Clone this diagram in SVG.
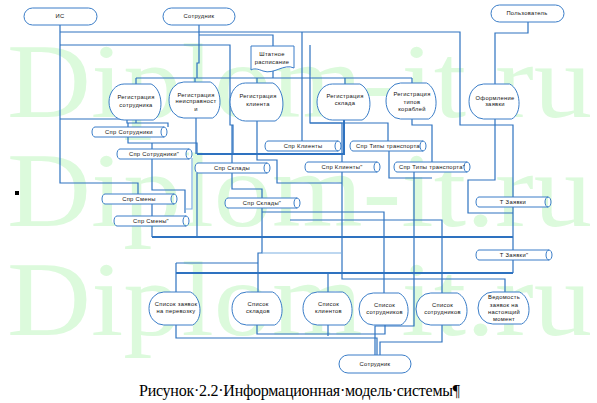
<svg xmlns="http://www.w3.org/2000/svg" width="597" height="403" viewBox="0 0 597 403">
<style>
.wm{font-family:"Liberation Serif",serif;font-size:106px;fill:#dcfadc}
.ln{fill:none;stroke:#2e72c0;stroke-width:1.2}
.lt{fill:none;stroke:#7cb0e2;stroke-width:1.2}
.tk{fill:none;stroke:#2e72c0;stroke-width:2}
.nd{fill:#fff;stroke:#3a7dc8;stroke-width:1}
.t{font-family:"Liberation Sans",Arial,sans-serif;font-size:5.8px;letter-spacing:0.3px;fill:#111;text-anchor:middle}
.cap{font-family:"Liberation Serif",serif;font-size:16px;fill:#000}
</style>
<rect width="597" height="403" fill="#fff"/>
<g id="watermark">
<text class="wm" x="7" y="117" textLength="585" lengthAdjust="spacingAndGlyphs">Diplom-it.ru</text>
<text class="wm" x="7" y="226" textLength="585" lengthAdjust="spacingAndGlyphs">Diplom-it.ru</text>
<text class="wm" x="7" y="335" textLength="585" lengthAdjust="spacingAndGlyphs">Diplom-it.ru</text>
</g>
<g id="connectors">
<path class="ln" d="M60,25 V183 H138 V194"/>
<path class="ln" d="M60,32 H460 V125 H513 V197"/>
<path class="ln" d="M513,206 V250"/>
<path class="ln" d="M513,260 V273"/>
<path class="ln" d="M60,45 H230 V125 H233 V154"/>
<path class="ln" d="M199,25 V63 H197 V78"/>
<path class="ln" d="M136,78 H412 M136,78 V84 M195,78 V82 M257,78 V83 M345,78 V84 M412,78 V83"/>
<path class="ln" d="M199,35 H273 V46 M273,70 V78"/>
<path class="ln" d="M528,22 V33 H495 V84"/>
<path class="ln" d="M495,118 V180 H468 V213 H513"/>
<path class="ln" d="M302,32 V141"/>
<path class="ln" d="M310,45 V123 H388 V141"/>
<path class="ln" d="M412,118 V125 H432 V162"/>
<path class="ln" d="M389,150 V178 H432"/>
<path class="ln" d="M60,119 H127 V123 H168 V127"/>
<path class="ln" d="M136,108 V123"/>
<path class="ln" d="M128,123 V143 H197 V154"/>
<path class="tk" d="M197,154 H344 V120"/>
<path class="ln" d="M152,143 V190 H185 V213"/>
<path class="lt" d="M192,158 V209 H185"/>
<path class="ln" d="M196,118 V154"/>
<path class="ln" d="M232,125 V189 H262 V198"/>
<path class="ln" d="M257,121 V160 H277 V183 H342"/>
<path class="ln" d="M310,123 H342 V279 H505 V292"/>
<path class="ln" d="M414,172 V326 H375 V355"/>
<path class="ln" d="M152,204 V237"/>
<path class="ln" d="M197,173 V237"/>
<path class="tk" d="M152,237 H513"/>
<path class="ln" d="M262,207 V253 H258 V263"/>
<path class="lt" d="M262,253 H342"/>
<path class="ln" d="M176,263 H258"/>
<path class="ln" d="M176,263 V292 M258,263 V292"/>
<path class="tk" d="M176,273 H513"/>
<path class="ln" d="M328,273 V292"/>
<path class="ln" d="M262,212 H384 V293"/>
<path class="ln" d="M290,220 H442 V293"/>
<path class="ln" d="M176,325 V338 H377 V355"/>
<path class="ln" d="M257,325 V334 H385 V324"/>
<path class="ln" d="M328,325 V336"/>
<path class="ln" d="M442,325 V342 H380 V355"/>
</g>
<g id="n-is"><rect class="nd" x="24" y="8" width="73" height="17" rx="8.5"/><text class="t" x="60" y="18">ИС</text></g>
<g id="n-sotr-top"><rect class="nd" x="163" y="8" width="72" height="17" rx="8.5"/><text class="t" x="199" y="18">Сотрудник</text></g>
<g id="n-polz"><rect class="nd" x="491" y="5" width="73" height="17" rx="8.5"/><text class="t" x="527" y="15">Пользователь</text></g>
<g id="n-sotr-bot"><rect class="nd" x="339" y="355" width="72" height="18" rx="9"/><text class="t" x="375" y="366">Сотрудник</text></g>
<g id="n-shtat"><path class="nd" d="M251,46 H294 V68 C284,63 274,75 263,71 C258,69 254,68 251,70 Z"/><text class="t" x="272" y="56">Штатное</text><text class="t" x="272" y="64">расписание</text></g>
<g id="p-reg-sotr"><path class="nd" d="M124.1,84 H151.1 C163,89.4 164.6,114.6 153.3,120 H124.1 A15.1,18 0 0 1 124.1,84 Z"/><text class="t" x="136" y="99">Регистрация</text><text class="t" x="136" y="106.5">сотрудника</text></g>
<g id="p-reg-neispr"><path class="nd" d="M183.8,82 H210.3 C222,87.4 223.6,112.6 212.5,118 H183.8 A14.8,18 0 0 1 183.8,82 Z"/><text class="t" x="196" y="96.5">Регистрация</text><text class="t" x="196" y="103">неисправност</text><text class="t" x="196" y="110.5">и</text></g>
<g id="p-reg-klient"><path class="nd" d="M245.4,83 H272.9 C285,88.7 286.7,115.3 275.1,121 H245.4 A15.4,19 0 0 1 245.4,83 Z"/><text class="t" x="258" y="98">Регистрация</text><text class="t" x="258" y="106">клиента</text></g>
<g id="p-reg-sklad"><path class="nd" d="M332.4,84 H359.9 C372,89.4 373.7,114.6 362.1,120 H332.4 A15.4,18 0 0 1 332.4,84 Z"/><text class="t" x="345" y="98">Регистрация</text><text class="t" x="345" y="105">склада</text></g>
<g id="p-reg-tipov"><path class="nd" d="M400.6,83 H426.6 C438,88.4 439.6,113.6 428.6,119 H400.6 A14.6,18 0 0 1 400.6,83 Z"/><text class="t" x="412" y="96">Регистрация</text><text class="t" x="412" y="103.5">типов</text><text class="t" x="412" y="111">кораблей</text></g>
<g id="p-oform"><path class="nd" d="M483.6,84 H509.6 C521,89.3 522.6,113.8 511.6,119 H483.6 A14.6,17.5 0 0 1 483.6,84 Z"/><text class="t" x="495" y="99.5">Оформление</text><text class="t" x="495" y="106">заявки</text></g>
<g id="p-sp-zayav"><path class="nd" d="M163.8,292 H190.3 C202,297 203.6,320 192.5,325 H163.8 A14.8,16.5 0 0 1 163.8,292 Z"/><text class="t" x="176" y="305.5">Список заявок</text><text class="t" x="176" y="313">на перевозку</text></g>
<g id="p-sp-sklad"><path class="nd" d="M246.6,292 H272.6 C284,297 285.6,320 274.6,325 H246.6 A14.6,16.5 0 0 1 246.6,292 Z"/><text class="t" x="258" y="305.5">Список</text><text class="t" x="258" y="313">складов</text></g>
<g id="p-sp-klient"><path class="nd" d="M317.3,292 H342.8 C354,297 355.5,320 344.8,325 H317.3 A14.3,16.5 0 0 1 317.3,292 Z"/><text class="t" x="328.5" y="305.5">Список</text><text class="t" x="328.5" y="313">клиентов</text></g>
<g id="p-sp-sotr1"><path class="nd" d="M373.3,293 H398.8 C410,297.8 411.5,320.2 400.8,325 H373.3 A14.3,16 0 0 1 373.3,293 Z"/><text class="t" x="384.5" y="306.5">Список</text><text class="t" x="384.5" y="314">сотрудников</text></g>
<g id="p-sp-sotr2"><path class="nd" d="M430.8,293 H457.3 C469,297.8 470.6,320.2 459.5,325 H430.8 A14.8,16 0 0 1 430.8,293 Z"/><text class="t" x="442.5" y="306.5">Список</text><text class="t" x="442.5" y="314">сотрудников</text></g>
<g id="p-vedom"><path class="nd" d="M492.8,292 H519.3 C531,296.8 532.6,319.2 521.5,324 H492.8 A14.8,16 0 0 1 492.8,292 Z"/><text class="t" x="504" y="299">Ведомость</text><text class="t" x="504" y="307">заявок на</text><text class="t" x="504" y="314">настоящий</text><text class="t" x="504" y="321">момент</text></g>
<g id="d-spr-sotr"><path class="nd" d="M95,127 H164 A3,5 0 0 1 164,137 H95 A3,5 0 0 1 95,127 Z M164,127 A3,5 0 0 0 164,137"/><text class="t" x="129" y="134">Спр Сотрудники</text></g>
<g id="d-spr-sotr2"><path class="nd" d="M120,149 H189 A3,5 0 0 1 189,159 H120 A3,5 0 0 1 120,149 Z M189,149 A3,5 0 0 0 189,159"/><text class="t" x="154" y="156">Спр Сотрудники"</text></g>
<g id="d-spr-sklad"><path class="nd" d="M198,163 H267 A3,5 0 0 1 267,173 H198 A3,5 0 0 1 198,163 Z M267,163 A3,5 0 0 0 267,173"/><text class="t" x="232" y="170">Спр Склады</text></g>
<g id="d-spr-smeny"><path class="nd" d="M105,194 H174 A3,5 0 0 1 174,204 H105 A3,5 0 0 1 105,194 Z M174,194 A3,5 0 0 0 174,204"/><text class="t" x="139" y="201">Спр Смены</text></g>
<g id="d-spr-smeny2"><path class="nd" d="M117,216 H186 A3,5 0 0 1 186,226 H117 A3,5 0 0 1 117,216 Z M186,216 A3,5 0 0 0 186,226"/><text class="t" x="151" y="223">Спр Смены"</text></g>
<g id="d-spr-sklad2"><path class="nd" d="M228,198 H297 A3,5 0 0 1 297,208 H228 A3,5 0 0 1 228,198 Z M297,198 A3,5 0 0 0 297,208"/><text class="t" x="262" y="205">Спр Склады"</text></g>
<g id="d-spr-klient"><path class="nd" d="M268,141 H338 A3,5 0 0 1 338,151 H268 A3,5 0 0 1 268,141 Z M338,141 A3,5 0 0 0 338,151"/><text class="t" x="303" y="148">Спр Клиенты</text></g>
<g id="d-spr-klient2"><path class="nd" d="M308,162 H377 A3,5 0 0 1 377,172 H308 A3,5 0 0 1 308,162 Z M377,162 A3,5 0 0 0 377,172"/><text class="t" x="342" y="169">Спр Клиенты"</text></g>
<g id="d-spr-tip"><path class="nd" d="M353,141 H423 A3,5 0 0 1 423,151 H353 A3,5 0 0 1 353,141 Z M423,141 A3,5 0 0 0 423,151"/><text class="t" x="388" y="148">Спр Типы транспорта</text></g>
<g id="d-spr-tip2"><path class="nd" d="M397,162 H467 A3,5 0 0 1 467,172 H397 A3,5 0 0 1 397,162 Z M467,162 A3,5 0 0 0 467,172"/><text class="t" x="432" y="169">Спр Типы транспорта"</text></g>
<g id="d-t-zayav"><path class="nd" d="M479,197 H548 A3,5 0 0 1 548,207 H479 A3,5 0 0 1 479,197 Z M548,197 A3,5 0 0 0 548,207"/><text class="t" x="513" y="204">Т Заявки</text></g>
<g id="d-t-zayav2"><path class="nd" d="M479,250 H549 A3,5 0 0 1 549,260 H479 A3,5 0 0 1 479,250 Z M549,250 A3,5 0 0 0 549,260"/><text class="t" x="514" y="257">Т Заявки"</text></g>
<rect x="15" y="191" width="4" height="4" fill="#000"/>
<text class="cap" x="139" y="396" textLength="321" lengthAdjust="spacing">Рисунок·2.2·Информационная·модель·системы¶</text>
</svg>
